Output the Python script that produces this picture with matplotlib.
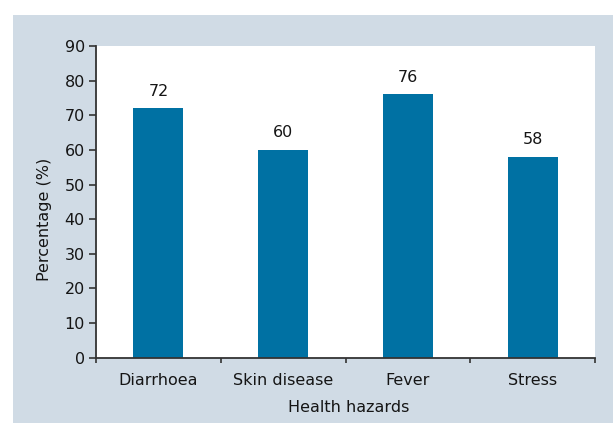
import matplotlib.pyplot as plt
from matplotlib.patches import Rectangle
from matplotlib.ticker import FixedLocator

plt.rcParams['font.family'] = ['DejaVu Sans']

categories = ['Diarrhoea', 'Skin disease', 'Fever', 'Stress']
percentages = [72, 60, 76, 58]
y_ticks = [0, 10, 20, 30, 40, 50, 60, 70, 80, 90]

bar_color = '#0071a3'
panel_color = '#d0dbe5'
spine_color = '#333333'
text_color = '#151515'
fs = 11.5

fig = plt.figure(figsize=(6.13, 4.23), dpi=100)
fig.patch.set_facecolor('white')

# light grey-blue panel behind the chart
fig.patches.append(Rectangle((13 / 613, 0), 1 - 13 / 613, 1 - 15 / 423,
                             transform=fig.transFigure, facecolor=panel_color,
                             edgecolor='none', zorder=-10))

ax = fig.add_axes([96 / 613, 65.3 / 423, 499 / 613, 311.7 / 423])
ax.set_facecolor('white')

x = range(len(categories))
bars = ax.bar(x, percentages, width=0.4, color=bar_color)

for xi, v in zip(x, percentages):
    ax.annotate(str(v), (xi, v), xytext=(0, 7), textcoords='offset points',
                ha='center', va='bottom', fontsize=fs, color=text_color)

ax.set_xlim(-0.5, len(categories) - 0.5)
ax.set_ylim(0, 90)
ax.set_yticks(y_ticks)
ax.set_xticks(list(x))
ax.set_xticklabels(categories)
ax.tick_params(axis='x', which='major', length=0, pad=11, labelsize=fs, labelcolor=text_color)
ax.xaxis.set_minor_locator(FixedLocator([i - 0.5 for i in range(len(categories) + 1)]))
ax.tick_params(axis='x', which='minor', length=3.5, width=1.2, color=spine_color)
ax.tick_params(axis='y', length=5, width=1.2, color=spine_color, labelsize=fs,
               labelcolor=text_color, pad=3)

for side in ['top', 'right']:
    ax.spines[side].set_visible(False)
for side in ['left', 'bottom']:
    ax.spines[side].set_color(spine_color)
    ax.spines[side].set_linewidth(1.3)

ax.set_xlabel('Health hazards', fontsize=fs, color=text_color)
ax.set_ylabel('Percentage (%)', fontsize=fs, color=text_color)
ax.xaxis.set_label_coords(0.507, -0.137)
ax.yaxis.set_label_coords(-0.089, 0.445)

fig.savefig('out.png', dpi=100)
